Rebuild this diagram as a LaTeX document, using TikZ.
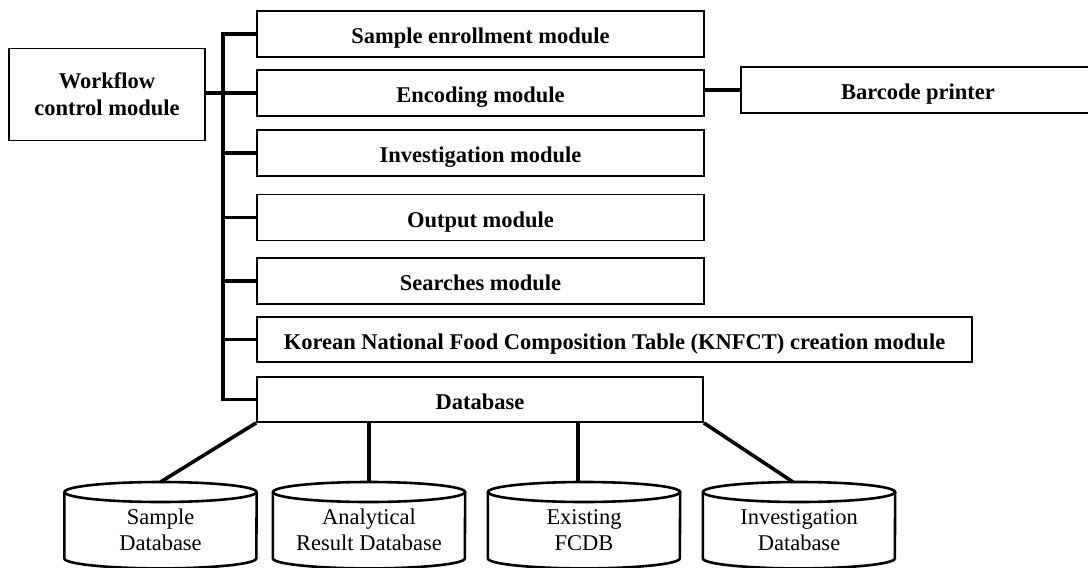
\documentclass[tikz,border=0pt]{standalone}
\usepackage{fontspec}
\setmainfont{Liberation Serif}
\usetikzlibrary{calc}
\begin{document}
\begin{tikzpicture}[x=1pt,y=-1pt,
  box/.style={draw,line width=1.8pt,rectangle,inner sep=0pt,align=center,
    font=\fontsize{22.5}{27}\selectfont\bfseries},
  onebox/.style={box,text height=19pt,text depth=0pt},
  modbox/.style={onebox,minimum width=447pt,minimum height=46pt},
  conn/.style={line width=3.6pt},
  cyltext/.style={inner sep=0pt,minimum width=192pt,minimum height=96pt,align=center,
    font=\fontsize{22.5}{26}\selectfont},
  cyl/.style={line width=2.6pt}]
\useasboundingbox[fill=white] (0,0) rectangle (1088,568);

\node[box,minimum width=196pt,minimum height=92pt] (wf) at (107,94.5) {Workflow\\control module};
\node[modbox] (m1) at (480.5,34) {Sample enrollment module};
\node[modbox] (m2) at (480.5,93) {Encoding module};
\node[modbox] (m3) at (480.5,153) {Investigation module};
\node[modbox] (m4) at (480.5,217.5) {Output module};
\node[modbox] (m5) at (480.5,281) {Searches module};
\node[onebox,minimum width=715pt,minimum height=45pt] (m6) at (614.5,339.5) {Korean National Food Composition Table (KNFCT) creation module};
\node[onebox,minimum width=446pt,minimum height=45pt] (db) at (480,399.5) {Database};
\node[onebox,minimum width=354pt,minimum height=46pt] (bp) at (918,90) {Barcode printer};

\coordinate (tr) at (223,0);
\draw[conn] (m1.west) -- (m1.west -| tr) -- (db.west -| tr) -- (db.west);
\draw[conn] (wf.east |- m2.west) -- (m2.west -| tr);
\foreach \m in {m2,m3,m4,m5,m6}{
  \draw[conn] (\m.west -| tr) -- (\m.west);
}
\draw[conn] (m2.east |- bp.west) -- (bp.west);

\node[cyltext,anchor=north] (c1) at (160.5,482) {Sample\\Database};
\node[cyltext,anchor=north] (c2) at (369,482) {Analytical\\Result Database};
\node[cyltext,anchor=north] (c3) at (584,482) {Existing\\FCDB};
\node[cyltext,anchor=north] (c4) at (799,482) {Investigation\\Database};
\foreach \n in {c1,c2,c3,c4}{
  \draw[cyl] ($(\n.north)+(0,10)$) ellipse[x radius=96,y radius=10];
  \draw[cyl] ($(\n.north west)+(0,10)$) -- ($(\n.south west)+(0,-20)$)
     arc[start angle=180,end angle=0,x radius=96,y radius=10]
     -- ($(\n.north east)+(0,10)$);
}

\draw[conn] (db.south west) -- (c1.north);
\draw[conn] (c2.north |- db.south) -- (c2.north);
\draw[conn] ($(c3.north |- db.south)+(-6,0)$) -- ($(c3.north)+(-6,0)$);
\draw[conn] (db.south east) -- ($(c4.north)+(-6,0)$);
\end{tikzpicture}
\end{document}
